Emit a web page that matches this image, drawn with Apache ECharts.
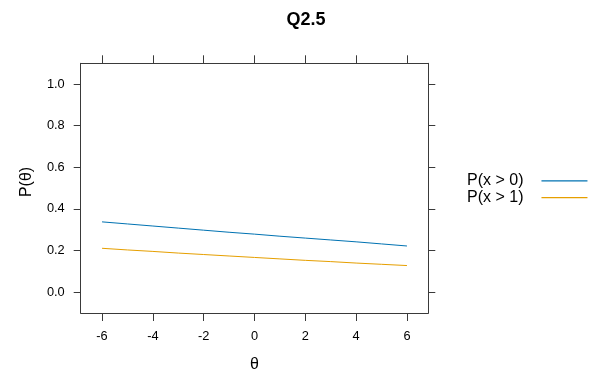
<!DOCTYPE html>
<html>
<head>
<meta charset="utf-8">
<style>
  html, body { margin: 0; padding: 0; background: #fff; }
  #chart { width: 590px; height: 372px; }
</style>
<script src="https://cdn.jsdelivr.net/npm/echarts@6/dist/echarts.min.js"></script>
</head>
<body>
<div id="chart"></div>
<script>
// Trait values (theta) at which the category curves are drawn
const theta = [-6, -5, -4, -3, -2, -1, 0, 1, 2, 3, 4, 5, 6];
// Probability of responding above category 0
const pAbove0 = [0.338, 0.328, 0.318, 0.308, 0.298, 0.288, 0.279, 0.269, 0.260, 0.251, 0.242, 0.232, 0.222];
// Probability of responding above category 1
const pAbove1 = [0.211, 0.203, 0.196, 0.188, 0.181, 0.174, 0.167, 0.160, 0.153, 0.147, 0.140, 0.134, 0.128];
// Tick labels
const xTicks = [-6, -4, -2, 0, 2, 4, 6];
const yTicks = [0, 0.2, 0.4, 0.6, 0.8, 1.0];
const seriesNames = ['P(x > 0)', 'P(x > 1)'];

const font = 'Liberation Sans, Arial, Helvetica, sans-serif';
const frame = '#3a3a3a';

const pairs = (ys) => theta.map((t, i) => [t, ys[i]]);

const xBase = {
  type: 'value', min: -6.84, max: 6.84,
  splitLine: { show: false },
  axisLine: { show: true, onZero: false, lineStyle: { color: frame, width: 1 } },
  axisTick: { show: true, customValues: xTicks, length: 8, lineStyle: { color: frame } }
};
const yBase = {
  type: 'value', min: -0.1, max: 1.1,
  splitLine: { show: false },
  axisLine: { show: true, onZero: false, lineStyle: { color: frame, width: 1 } },
  axisTick: { show: true, customValues: yTicks, length: 7, lineStyle: { color: frame } }
};

const chart = echarts.init(document.getElementById('chart'), null, { renderer: 'canvas' });
chart.setOption({
  animation: false,
  backgroundColor: '#ffffff',
  title: {
    text: 'Q2.5',
    left: 301, top: 6, textAlign: 'center',
    textStyle: { fontFamily: font, fontSize: 18, fontWeight: 'bold', color: '#000' }
  },
  grid: {
    left: 80.7, right: 161.7, top: 63.3, bottom: 59,
    containLabel: false, outerBoundsMode: 'none'
  },
  xAxis: [
    Object.assign({}, xBase, {
      position: 'bottom',
      name: 'θ', nameLocation: 'middle', nameGap: 44,
      nameTextStyle: { fontFamily: font, fontSize: 16, color: '#000' },
      axisLabel: {
        show: true, customValues: xTicks, margin: 17,
        fontFamily: font, fontSize: 12.8, color: '#000'
      }
    }),
    Object.assign({}, xBase, { position: 'top', axisLabel: { show: false } })
  ],
  yAxis: [
    Object.assign({}, yBase, {
      position: 'left',
      axisLabel: {
        show: true, customValues: yTicks, margin: 16,
        fontFamily: font, fontSize: 12.8, color: '#000',
        formatter: (v) => v.toFixed(1)
      }
    }),
    Object.assign({}, yBase, { position: 'right', axisLabel: { show: false } })
  ],
  legend: {
    orient: 'vertical',
    left: 467, top: 172.5,
    padding: 0, itemGap: 0,
    align: 'right',
    icon: 'rect', itemWidth: 46, itemHeight: 1.2,
    textStyle: { fontFamily: font, fontSize: 16, color: '#000', lineHeight: 16.7, padding: [0, 13, 0, 0] },
    data: seriesNames
  },
  graphic: [{
    type: 'text',
    x: 27, y: 182, rotation: Math.PI / 2,
    style: {
      text: 'P(θ)', fontFamily: font, fontSize: 16, fill: '#000',
      align: 'center', verticalAlign: 'middle'
    }
  }],
  series: [
    {
      name: seriesNames[0], type: 'line', xAxisIndex: 0, yAxisIndex: 0,
      data: pairs(pAbove0), showSymbol: false, symbol: 'none',
      lineStyle: { color: '#0072B2', width: 1 }, itemStyle: { color: '#0072B2' }
    },
    {
      name: seriesNames[1], type: 'line', xAxisIndex: 0, yAxisIndex: 0,
      data: pairs(pAbove1), showSymbol: false, symbol: 'none',
      lineStyle: { color: '#E69F00', width: 1 }, itemStyle: { color: '#E69F00' }
    }
  ]
});
</script>
</body>
</html>
